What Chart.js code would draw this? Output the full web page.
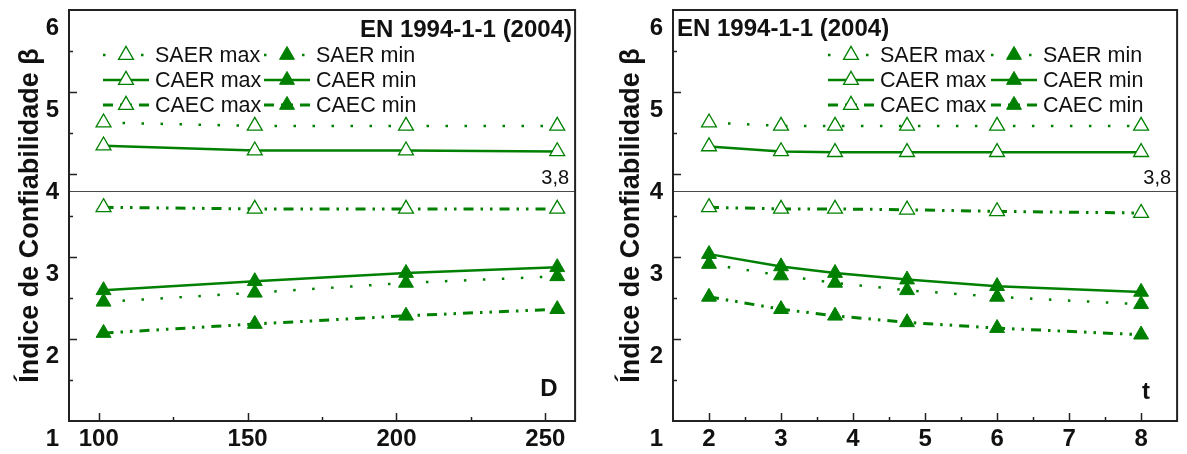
<!DOCTYPE html>
<html>
<head>
<meta charset="utf-8">
<script src="https://cdn.jsdelivr.net/npm/chart.js@4.4.1/dist/chart.umd.min.js"></script>
<style>
  html, body { margin: 0; padding: 0; background: #fff; }
  .panel { position: absolute; top: 0; }
</style>
</head>
<body>
<canvas id="chartD" class="panel" style="left:0px" width="585" height="454"></canvas>
<canvas id="chartT" class="panel" style="left:590px" width="597" height="454"></canvas>
<script>
/* --- reliability index beta vs D and t --- */

const seriesNames = ['SAER max', 'SAER min', 'CAER max', 'CAER min', 'CAEC max', 'CAEC min'];

// left panel: diameter D
const dValues = [101.6, 152.4, 203.2, 254.0];
const dSaerMax = [4.63, 4.59, 4.59, 4.59];
const dSaerMin = [2.45, 2.56, 2.68, 2.76];
const dCaerMax = [4.35, 4.29, 4.29, 4.28];
const dCaerMin = [2.59, 2.70, 2.80, 2.87];
const dCaecMax = [3.60, 3.58, 3.58, 3.58];
const dCaecMin = [2.07, 2.18, 2.28, 2.36];

// right panel: thickness t
const tValues = [2, 3, 3.75, 4.75, 6, 8];
const tSaerMax = [4.63, 4.59, 4.59, 4.59, 4.59, 4.59];
const tSaerMin = [2.91, 2.77, 2.68, 2.59, 2.51, 2.42];
const tCaerMax = [4.34, 4.28, 4.27, 4.27, 4.27, 4.27];
const tCaerMin = [3.03, 2.88, 2.80, 2.72, 2.64, 2.57];
const tCaecMax = [3.60, 3.58, 3.58, 3.57, 3.55, 3.53];
const tCaecMin = [2.51, 2.36, 2.28, 2.20, 2.13, 2.05];

const yTicksShown = [1, 2, 3, 4, 5, 6];
const betaTarget = 3.8;
const betaTargetLabel = '3,8';
const titleText = 'EN 1994-1-1 (2004)';
const yTitle = 'Índice de Confiabilidade β';

const GREEN = '#008000';
const FONT = '"Liberation Sans", Arial, sans-serif';
Chart.defaults.font.family = FONT;
Chart.defaults.color = '#111';

const lineStyle = {
    SAER: { borderDash: [2.5, 16.5], borderWidth: 2.5 },
    CAER: { borderDash: [], borderWidth: 2.5 },
    CAEC: { borderDash: [10, 7, 2.5, 7, 2.5, 7], borderWidth: 3 }
};

function makeDataset(name, xs, ys) {
    const kind = name.split(' ')[0];
    const filled = name.endsWith('min');
    return {
        label: name,
        data: xs.map((x, i) => ({ x: x, y: ys[i] })),
        borderColor: GREEN,
        borderWidth: lineStyle[kind].borderWidth,
        borderDash: lineStyle[kind].borderDash,
        borderCapStyle: 'butt',
        tension: 0,
        fill: false,
        pointStyle: 'triangle',
        pointRadius: 8.6,
        pointHoverRadius: 8.6,
        pointBorderWidth: filled ? 1 : 1.3,
        pointBorderColor: GREEN,
        pointBackgroundColor: filled ? GREEN : '#ffffff'
    };
}

/** frame, ticks, reference line, texts and legend **/
const decorPlugin = {
    id: 'decor',
    beforeDatasetsDraw(chart, args, o) {
        const { ctx, chartArea: a, scales: { y } } = chart;
        const py = Math.round(y.getPixelForValue(betaTarget)) + 0.5;
        ctx.save();
        ctx.strokeStyle = '#4a4a4a';
        ctx.lineWidth = 1.2;
        ctx.beginPath();
        ctx.moveTo(a.left, py);
        ctx.lineTo(a.right, py);
        ctx.stroke();
        ctx.fillStyle = '#111';
        ctx.font = '20px ' + FONT;
        ctx.textAlign = 'right';
        ctx.textBaseline = 'middle';
        ctx.fillText(betaTargetLabel, a.right - 6, py - 13);
        ctx.restore();
    },
    afterDatasetsDraw(chart, args, o) {
        const { ctx, chartArea: a, scales: { x, y } } = chart;
        ctx.save();
        // inward ticks
        ctx.strokeStyle = '#222';
        ctx.lineWidth = 1.5;
        ctx.beginPath();
        y.ticks.forEach(t => {
            if (t.value <= y.min || t.value >= y.max) return;
            const py = Math.round(y.getPixelForValue(t.value)) + 0.5;
            const len = Number.isInteger(t.value) ? 8 : 4;
            ctx.moveTo(a.left, py);
            ctx.lineTo(a.left + len, py);
        });
        x.ticks.forEach(t => {
            if (t.value <= x.min || t.value >= x.max) return;
            const px = Math.round(x.getPixelForValue(t.value)) + 0.5;
            const len = (t.value % o.xMajor === 0) ? 8 : 4;
            ctx.moveTo(px, a.bottom);
            ctx.lineTo(px, a.bottom - len);
        });
        ctx.stroke();
        // box
        ctx.lineWidth = 2;
        ctx.strokeRect(a.left, a.top, a.right - a.left, a.bottom - a.top);

        // title and axis tag
        ctx.fillStyle = '#111';
        ctx.font = 'bold 24px ' + FONT;
        ctx.textBaseline = 'middle';
        ctx.textAlign = o.titleAlign;
        ctx.fillText(titleText, o.titleX, o.titleY);
        ctx.textAlign = 'center';
        ctx.fillText(o.tag, o.tagX, o.tagY);

        // legend, two columns
        chart.data.datasets.forEach((ds, i) => {
            const lx = o.legendX + (i % 2) * o.legendCol;
            const ly = o.legendY + Math.floor(i / 2) * o.legendRow;
            ctx.strokeStyle = ds.borderColor;
            ctx.lineWidth = ds.borderWidth;
            ctx.setLineDash(ds.borderDash);
            ctx.beginPath();
            ctx.moveTo(lx, ly);
            ctx.lineTo(lx + o.sample, ly);
            ctx.stroke();
            ctx.setLineDash([]);
            ctx.fillStyle = ds.pointBackgroundColor;
            ctx.strokeStyle = ds.pointBorderColor;
            ctx.lineWidth = ds.pointBorderWidth;
            Chart.helpers.drawPoint(ctx, {
                pointStyle: 'triangle', radius: ds.pointRadius,
                borderWidth: ds.pointBorderWidth, rotation: 0
            }, lx + o.sample / 2, ly);
            ctx.fillStyle = '#111';
            ctx.font = '21.5px ' + FONT;
            ctx.textAlign = 'left';
            ctx.fillText(ds.label, lx + o.sample + 6, ly + 1);
        });
        ctx.restore();
    }
};

function buildChart(id, xs, series, p) {
    const datasets = seriesNames.map((n, i) => makeDataset(n, xs, series[i]));
    return new Chart(document.getElementById(id), {
        type: 'line',
        data: { datasets: datasets },
        plugins: [decorPlugin],
        options: {
            responsive: false,
            animation: false,
            events: [],
            layout: { padding: { top: 10, right: p.padRight, left: 0, bottom: 0 } },
            plugins: {
                legend: { display: false },
                tooltip: { enabled: false },
                decor: p.decor
            },
            scales: {
                x: {
                    type: 'linear',
                    min: p.xMin,
                    max: p.xMax,
                    grid: { display: false, drawTicks: false },
                    border: { display: false },
                    ticks: {
                        stepSize: p.xStep,
                        includeBounds: false,
                        autoSkip: false,
                        maxRotation: 0,
                        padding: 4,
                        font: { size: 24, weight: 'bold' },
                        callback: v => (v % p.decor.xMajor === 0 ? String(v) : '')
                    },
                    afterFit: s => { s.height = 33; s.paddingLeft = 0; s.paddingRight = 0; }
                },
                y: {
                    type: 'linear',
                    min: 1,
                    max: 6,
                    grid: { display: false, drawTicks: false },
                    border: { display: false },
                    title: {
                        display: true,
                        text: yTitle,
                        font: { size: 27, weight: 'bold' },
                        padding: { top: p.yTitlePad, bottom: 0 }
                    },
                    ticks: {
                        stepSize: 0.5,
                        autoSkip: false,
                        padding: 10,
                        labelOffset: 18,
                        font: { size: 24, weight: 'bold' },
                        callback: v => (yTicksShown.includes(v) ? String(v) : '')
                    },
                    afterFit: s => { s.width = p.yWidth; s.paddingTop = 0; s.paddingBottom = 0; }
                }
            }
        }
    });
}

buildChart('chartD', dValues,
    [dSaerMax, dSaerMin, dCaerMax, dCaerMin, dCaecMax, dCaecMin], {
        xMin: 90, xMax: 260, xStep: 25, padRight: 6, yWidth: 69, yTitlePad: 14,
        decor: {
            xMajor: 50, titleAlign: 'right', titleX: 572, titleY: 30,
            tag: 'D', tagX: 549, tagY: 389,
            legendX: 103, legendY: 55, legendCol: 161, legendRow: 25, sample: 46
        }
    });

buildChart('chartT', tValues,
    [tSaerMax, tSaerMin, tCaerMax, tCaerMin, tCaecMax, tCaecMin], {
        xMin: 1.5, xMax: 8.5, xStep: 0.5, padRight: 9, yWidth: 83, yTitlePad: 25,
        decor: {
            xMajor: 1, titleAlign: 'left', titleX: 87, titleY: 29,
            tag: 't', tagX: 556, tagY: 392,
            legendX: 238, legendY: 55, legendCol: 163, legendRow: 25, sample: 46
        }
    });
</script>
</body>
</html>
